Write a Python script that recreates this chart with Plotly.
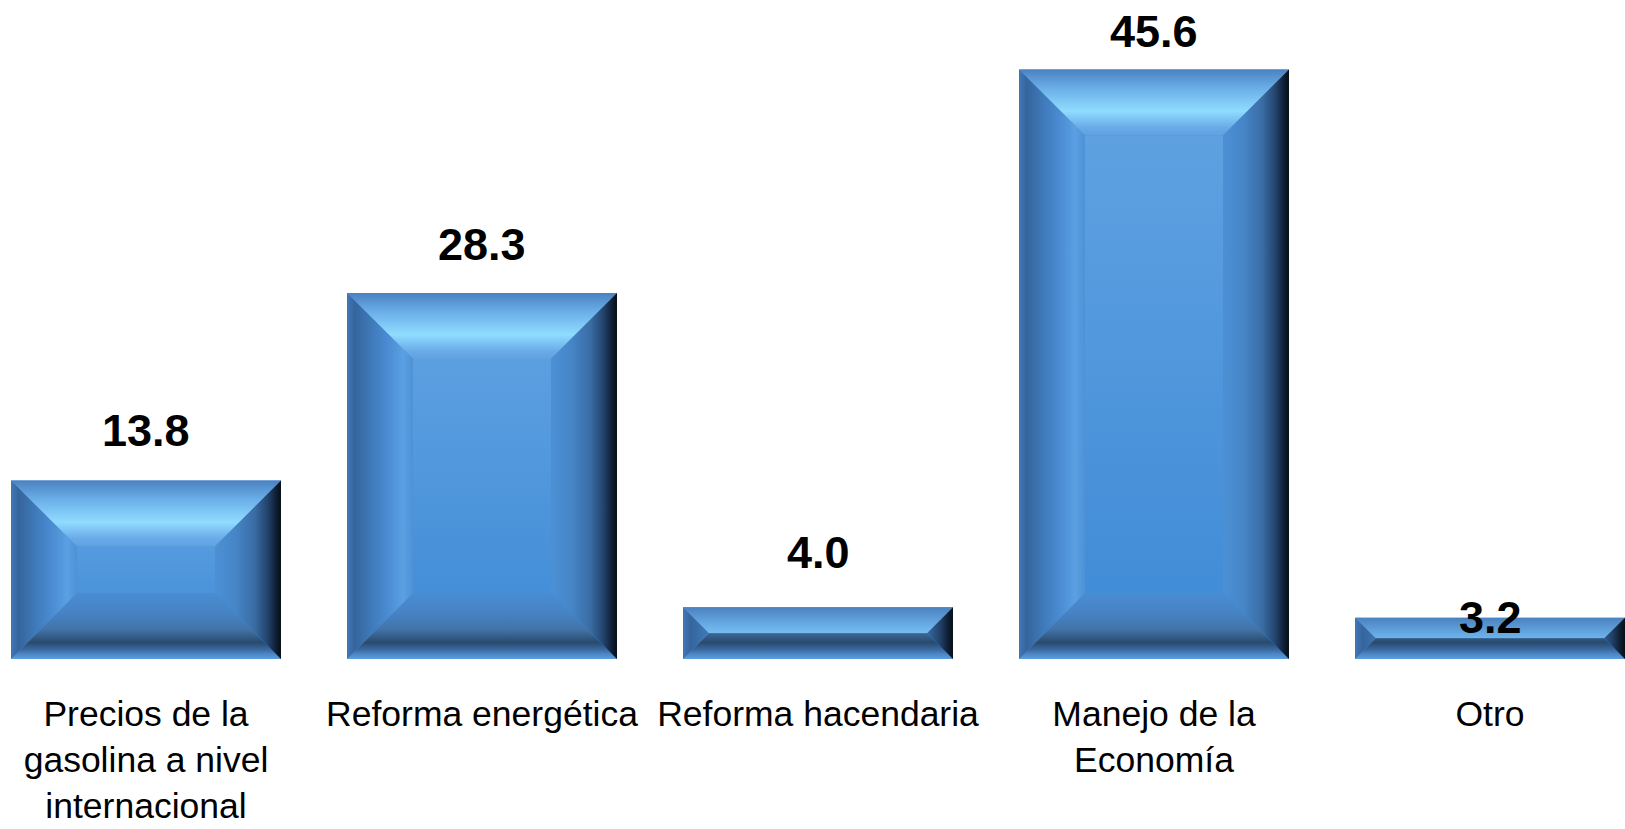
import plotly.graph_objects as go

# ---- data ----
categories = [
    "Precios de la<br>gasolina a nivel<br>internacional",
    "Reforma energética",
    "Reforma hacendaria",
    "Manejo de la<br>Economía",
    "Otro",
]
values = [13.8, 28.3, 4.0, 45.6, 3.2]
value_labels = ["13.8", "28.3", "4.0", "45.6", "3.2"]

# ---- styling / geometry (not data) ----
W, H = 1625, 829
MB = 170
PX_PER_CAT = 336.0
X_RANGE = [-146 / PX_PER_CAT, (W - 146) / PX_PER_CAT]
Y_MAX = 50.97
PX_PER_Y = (H - MB) / Y_MAX
BAR_W = 270 / PX_PER_CAT
BEVEL_PX = 66
BX = BEVEL_PX / PX_PER_CAT
BY = BEVEL_PX / PX_PER_Y

FONT = "Liberation Sans, Arial, sans-serif"

top_cs = [[0, "#5fa2e0"], [0.12, "#6aaae8"], [0.37, "#90dcff"], [0.72, "#6aaee8"], [1, "#4a82c0"]]
bot_cs = [[0, "#5c9ee0"], [0.08, "#4a84c4"], [0.14, "#3a6aa0"], [0.25, "#2a4a6e"],
          [0.45, "#4274a8"], [0.7, "#4683c4"], [1, "#4a8cd2"]]
left_cs = [[0, "#4078b8"], [0.12, "#35659c"], [0.35, "#3e78b8"], [0.6, "#4a8ad0"],
           [0.85, "#5aa0e2"], [1, "#4e92d6"]]
right_cs = [[0, "#4c90d4"], [0.3, "#4686c8"], [0.6, "#3a6ca4"], [0.8, "#22426a"],
            [0.95, "#0c1828"], [1, "#081018"]]
mid_cs = [[0, "#3e8ad6"], [1, "#62a4e2"]]

fig = go.Figure()
xs = list(range(len(categories)))
fig.add_trace(go.Bar(x=xs, y=values, width=BAR_W, marker=dict(color="#4a8ed2", line=dict(width=0)),
                     hoverinfo="skip", showlegend=False))


def poly(px, py, cs, orient, start, stop):
    fig.add_trace(go.Scatter(
        x=px + [px[0]], y=py + [py[0]], mode="lines", fill="toself",
        line=dict(width=0, color="rgba(0,0,0,0)"),
        fillgradient=dict(type=orient, colorscale=cs, start=start, stop=stop),
        hoverinfo="skip", showlegend=False))


for i, v in zip(xs, values):
    x0, x1 = i - BAR_W / 2, i + BAR_W / 2
    by = min(BY, v / 2)
    bx = by * PX_PER_Y / PX_PER_CAT
    # centre
    poly([x0 + bx, x1 - bx, x1 - bx, x0 + bx], [by, by, v - by, v - by], mid_cs, "vertical", 0, v)
    # top
    poly([x0, x1, x1 - bx, x0 + bx], [v, v, v - by, v - by], top_cs, "vertical", v - BY, v)
    # bottom
    poly([x0, x1, x1 - bx, x0 + bx], [0, 0, by, by], bot_cs, "vertical", 0, BY)
    # left
    poly([x0, x0, x0 + bx, x0 + bx], [0, v, v - by, by], left_cs, "horizontal", x0, x0 + BX)
    # right
    poly([x1, x1, x1 - bx, x1 - bx], [0, v, v - by, by], right_cs, "horizontal", x1 - BX, x1)

label_anchor = ["bottom", "bottom", "bottom", "bottom", "middle"]
label_shift = [23, 21, 27, 10, 0]
for i, (v, t) in enumerate(zip(values, value_labels)):
    fig.add_annotation(x=i, y=v, text="<b>%s</b>" % t, showarrow=False,
                       yanchor=label_anchor[i], yshift=label_shift[i],
                       font=dict(family=FONT, size=45, color="#000000"))

fig.update_layout(
    width=W, height=H,
    margin=dict(l=0, r=0, t=0, b=MB),
    paper_bgcolor="white", plot_bgcolor="white",
    bargap=0.2,
    xaxis=dict(range=X_RANGE, tickmode="array", tickvals=xs, ticktext=categories,
               showgrid=False, zeroline=False, showline=False, ticks="",
               ticklabelstandoff=30,
               tickfont=dict(family=FONT, size=35.5, color="#000000")),
    yaxis=dict(range=[0, Y_MAX], visible=False, showgrid=False, zeroline=False),
)

fig.write_html("out.html", config={"displayModeBar": False},
               post_script="document.body.style.margin='0px';")
